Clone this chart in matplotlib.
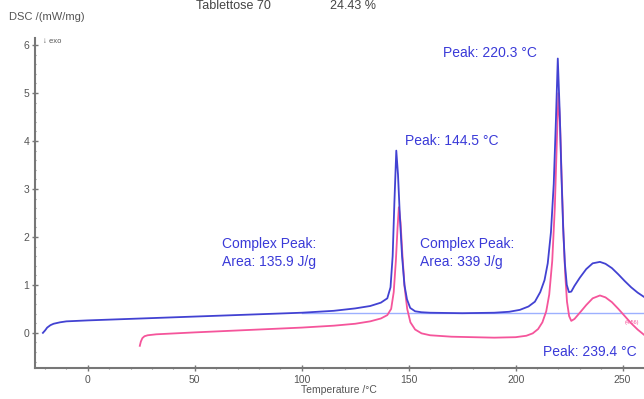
import numpy as np
import matplotlib.pyplot as plt
from matplotlib.ticker import MultipleLocator

plt.rcParams['font.family'] = ['Liberation Sans', 'DejaVu Sans']

# curve 1 (blue)
t_blue = [-21, -20, -19, -17.5, -16, -13, -10, 0, 25, 50, 75, 100, 115, 125, 132,
          137, 140, 141.5, 142.5, 143.3, 144.2, 145.0, 145.9, 146.9, 148.0, 149.2,
          150.7, 153, 156, 160, 175, 190, 197, 202, 206, 209, 211.5, 213.5, 215, 216.5,
          217.8, 218.8, 219.7, 220.6, 221.4, 222.2, 223.0, 223.9, 224.9, 226, 227.5,
          230, 233, 236, 239.4, 242, 245, 248, 251, 254, 257, 260]
dsc_blue = [0.0, 0.05, 0.11, 0.16, 0.19, 0.22, 0.24, 0.26, 0.30, 0.34, 0.38, 0.42, 0.46, 0.51, 0.56,
            0.63, 0.72, 0.95, 1.6, 2.7, 3.8, 3.3, 2.4, 1.6, 1.0, 0.7,
            0.52, 0.45, 0.43, 0.42, 0.41, 0.42, 0.44, 0.48, 0.55, 0.65, 0.85, 1.1, 1.45, 2.1,
            3.1, 4.4, 5.72, 4.6, 3.3, 2.2, 1.45, 1.0, 0.85, 0.86, 0.98,
            1.15, 1.33, 1.45, 1.48, 1.44, 1.35, 1.22, 1.08, 0.95, 0.84, 0.75]

# curve 2 (pink)
t_pink = [24.3, 24.8, 25.5, 26.5, 28, 32, 50, 75, 100, 115, 125, 132, 137, 140,
          141.8, 143, 144, 144.8, 145.4, 146.2, 147.1, 148.1, 149.3, 150.8, 153, 156,
          160, 170, 180, 190, 200, 205, 208, 210.5, 212.5, 214.3, 215.7, 217.1, 218.3,
          219.4, 220.0, 220.8, 221.6, 222.4, 223.2, 224.0, 225.0, 226.0, 227.5, 230, 233,
          236, 239.4, 242, 245, 248, 251, 254, 257, 260]
dsc_pink = [-0.27, -0.18, -0.11, -0.07, -0.05, -0.03, 0.01, 0.06, 0.11, 0.15, 0.19, 0.24, 0.3, 0.37,
            0.5, 0.85, 1.5, 2.2, 2.62, 2.3, 1.6, 0.95, 0.5, 0.22, 0.07, -0.01,
            -0.05, -0.08, -0.09, -0.1, -0.09, -0.06, -0.01, 0.08, 0.22, 0.45, 0.8, 1.5, 2.6,
            4.2, 5.0, 4.3, 3.1, 2.0, 1.2, 0.65, 0.35, 0.25, 0.29, 0.42, 0.58,
            0.72, 0.78, 0.74, 0.64, 0.5, 0.35, 0.2, 0.07, -0.04]

# integration baseline
t_base = [100, 260]
dsc_base = [0.42, 0.42]

blue = '#4242d2'
pink = '#f5559b'
txt_blue = '#3a3ad8'
grey = '#555555'

fig = plt.figure(figsize=(6.44, 3.99), dpi=100)
ax = fig.add_axes([0.054, 0.078, 0.946, 0.827])

ax.plot(t_base, dsc_base, color='#9db0ff', lw=1.0)
ax.plot(t_pink, dsc_pink, color=pink, lw=1.3)
ax.plot(t_blue, dsc_blue, color=blue, lw=1.3)

ax.set_xlim(-24.8, 260)
ax.set_ylim(-0.73, 6.15)

for s in ['top', 'right']:
    ax.spines[s].set_visible(False)
for s in ['left', 'bottom']:
    ax.spines[s].set_color('#777777')
    ax.spines[s].set_linewidth(1.5)

ax.xaxis.set_major_locator(MultipleLocator(50))
ax.xaxis.set_minor_locator(MultipleLocator(10))
ax.yaxis.set_major_locator(MultipleLocator(1))
ax.yaxis.set_minor_locator(MultipleLocator(0.2))
ax.tick_params(which='major', direction='inout', length=4, width=1, color='#777777',
               labelsize=7.5, labelcolor=grey, pad=2)
ax.tick_params(which='minor', direction='inout', length=2, width=0.8, color='#888888')
ax.tick_params(axis='x', pad=3)

ax.set_xlabel('Temperature /°C', fontsize=7.5, color=grey, labelpad=0)

fig.text(0.014, 0.957, 'DSC /(mW/mg)', fontsize=8, color=grey, va='center')
fig.text(0.067, 0.897, '↓ exo', fontsize=5.5, color=grey, va='center')
fig.text(0.305, 0.986, 'Tablettose 70', fontsize=9, color='#444444', va='center')
fig.text(0.513, 0.986, '24.43 %', fontsize=9, color='#444444', va='center')

fs = 10
ax.text(166, 5.83, 'Peak: 220.3 °C', fontsize=fs, color=txt_blue, va='center')
ax.text(148.5, 4.0, 'Peak: 144.5 °C', fontsize=fs, color=txt_blue, va='center')
ax.text(62.5, 1.86, 'Complex Peak:', fontsize=fs, color=txt_blue, va='center')
ax.text(62.5, 1.47, 'Area: 135.9 J/g', fontsize=fs, color=txt_blue, va='center')
ax.text(155.5, 1.86, 'Complex Peak:', fontsize=fs, color=txt_blue, va='center')
ax.text(155.5, 1.47, 'Area: 339 J/g', fontsize=fs, color=txt_blue, va='center')
ax.text(213, -0.4, 'Peak: 239.4 °C', fontsize=fs, color=txt_blue, va='center')
ax.text(251, 0.22, '(4.56)', fontsize=4, color=pink, va='center')

fig.savefig('out.png', dpi=100)
